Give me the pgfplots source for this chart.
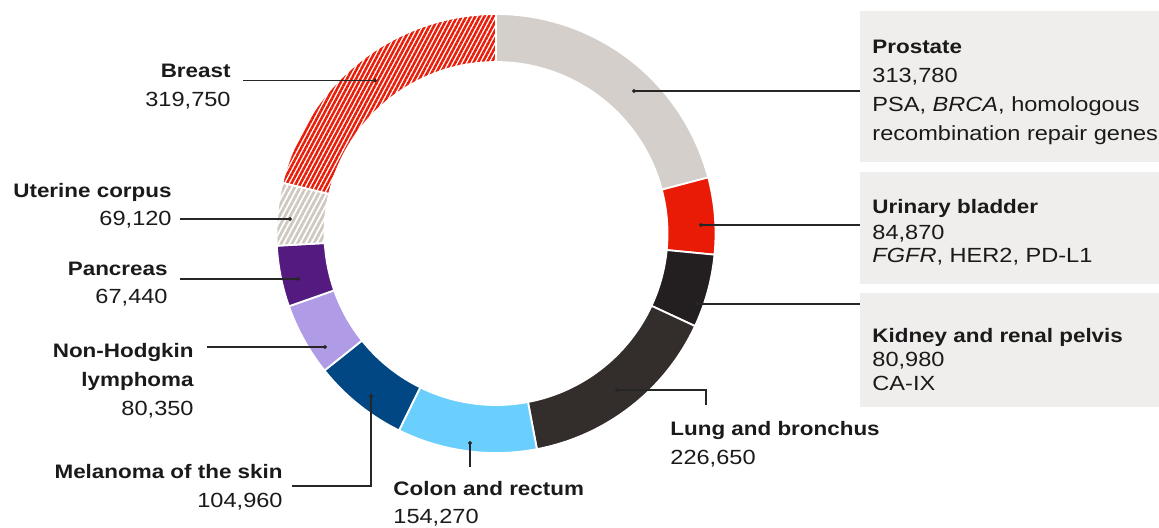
\documentclass[border=0pt]{standalone}
\usepackage{fontspec}
\setmainfont{Liberation Sans}[FakeStretch=1.15]
\usepackage{pgfplots}
\pgfplotsset{compat=1.18}
\usetikzlibrary{patterns.meta}

\definecolor{cProstate}{HTML}{D4CFCA}
\definecolor{cBladder}{HTML}{EA1B06}
\definecolor{cKidney}{HTML}{231F20}
\definecolor{cLung}{HTML}{332D2B}
\definecolor{cColon}{HTML}{6BCFFE}
\definecolor{cMelanoma}{HTML}{004784}
\definecolor{cNHL}{HTML}{B09CE6}
\definecolor{cPancreas}{HTML}{551A7F}
\definecolor{cUterine}{HTML}{CFC8C0}
\definecolor{cBreast}{HTML}{EA1B06}
\definecolor{cBox}{HTML}{EFEEEC}
\definecolor{cText}{HTML}{1A1A1A}

% new cases (thousands), clockwise from the top
\def\vProstate{313.78}
\def\vBladder{84.87}
\def\vKidney{80.98}
\def\vLung{226.65}
\def\vColon{154.27}
\def\vMelanoma{104.96}
\def\vNHL{80.35}
\def\vPancreas{67.44}
\def\vUterine{69.12}
\def\vBreast{319.75}
\pgfmathsetmacro\total{\vProstate+\vBladder+\vKidney+\vLung+\vColon+\vMelanoma+\vNHL+\vPancreas+\vUterine+\vBreast}
\gdef\cum{0}

\newcommand\seg[2]{%
  \pgfmathsetmacro\segB{90-360*(\cum/\total)}%
  \pgfmathsetmacro\newcum{\cum+#1}%
  \pgfmathsetmacro\segA{90-360*(\newcum/\total)}%
  \xdef\cum{\newcum}%
  \edef\doseg{\noexpand\addplot[#2, draw=white, line width=0.9pt, domain=0:2, samples=81]
   ({496+((x<1.0125)?219.5:171.5)*cos(((x<1.0125)?((\segB)-((\segB)-(\segA))*min(x,1)):((\segA)+((\segB)-(\segA))*max(x-1.025,0)/0.975)))},
    {233.5-((x<1.0125)?219.5:171.5)*sin(((x<1.0125)?((\segB)-((\segB)-(\segA))*min(x,1)):((\segA)+((\segB)-(\segA))*max(x-1.025,0)/0.975)))}) -- cycle;}%
  \doseg}

\tikzset{
  lab/.style={font=\fontsize{10.25}{12}\selectfont, inner sep=0pt, text=cText},
  labb/.style={lab, font=\fontsize{9.75}{11}\selectfont\bfseries},
}
\pgfplotsset{
  lead/.style={black!85, line width=0.55pt, mark=*, mark size=0.7pt, mark indices={1}},
}

\begin{document}
\begin{tikzpicture}
\useasboundingbox (0,0) rectangle (579.5pt,263.5pt);
\begin{axis}[at={(0,0)}, anchor=south west, scale only axis,
  width=579.5pt, height=263.5pt,
  xmin=0, xmax=1159, ymin=0, ymax=527, y dir=reverse,
  hide axis, clip=false]

% right-hand panels
\addplot[fill=cBox, draw=none] coordinates {(860,11) (1159,11) (1159,162) (860,162)} -- cycle;
\addplot[fill=cBox, draw=none] coordinates {(860,172) (1159,172) (1159,284) (860,284)} -- cycle;
\addplot[fill=cBox, draw=none] coordinates {(860,293) (1159,293) (1159,407) (860,407)} -- cycle;

% donut
\seg{\vProstate}{fill=cProstate}
\seg{\vBladder}{fill=cBladder}
\seg{\vKidney}{fill=cKidney}
\seg{\vLung}{fill=cLung}
\seg{\vColon}{fill=cColon}
\seg{\vMelanoma}{fill=cMelanoma}
\seg{\vNHL}{fill=cNHL}
\seg{\vPancreas}{fill=cPancreas}
\seg{\vUterine}{pattern={Lines[angle=62,distance=2.4pt,line width=1.4pt]}, pattern color=cUterine}
\seg{\vBreast}{pattern={Lines[angle=62,distance=2pt,line width=1.25pt]}, pattern color=cBreast}

% leader lines
\addplot[lead] coordinates {(375,80.5) (243,80.5)};
\addplot[lead] coordinates {(290,219) (180,219)};
\addplot[lead] coordinates {(298,279) (180,279)};
\addplot[lead] coordinates {(325,347) (207,347)};
\addplot[lead] coordinates {(371,396) (371,486) (292,486)};
\addplot[lead] coordinates {(470,443) (470,467)};
\addplot[lead] coordinates {(617,390) (706,390) (706,405)};
\addplot[lead] coordinates {(634,91) (860,91)};
\addplot[lead] coordinates {(701,225) (860,225)};
\addplot[lead] coordinates {(697,304) (860,304)};

% right labels
\node[labb, anchor=base west] at (axis cs:872,54) {Prostate};
\node[lab, anchor=base west] at (axis cs:872,83) {313,780};
\node[lab, anchor=base west] at (axis cs:872,112) {PSA, \textit{BRCA}, homologous};
\node[lab, anchor=base west] at (axis cs:872,140) {recombination repair genes};
\node[labb, anchor=base west] at (axis cs:872,213) {Urinary bladder};
\node[lab, anchor=base west] at (axis cs:872,239) {84,870};
\node[lab, anchor=base west] at (axis cs:872,262) {\textit{FGFR}, HER2, PD-L1};
\node[labb, anchor=base west] at (axis cs:872,342) {Kidney and renal pelvis};
\node[lab, anchor=base west] at (axis cs:872,366) {80,980};
\node[lab, anchor=base west] at (axis cs:872,390) {CA-IX};

% left labels
\node[labb, anchor=base east] at (axis cs:231,78) {Breast};
\node[lab, anchor=base east] at (axis cs:231,107) {319,750};
\node[labb, anchor=base east] at (axis cs:172,197) {Uterine corpus};
\node[lab, anchor=base east] at (axis cs:172,225) {69,120};
\node[labb, anchor=base east] at (axis cs:168,275) {Pancreas};
\node[lab, anchor=base east] at (axis cs:168,303) {67,440};
\node[labb, anchor=base east] at (axis cs:194,357) {Non-Hodgkin};
\node[labb, anchor=base east] at (axis cs:194,386) {lymphoma};
\node[lab, anchor=base east] at (axis cs:194,415) {80,350};
\node[labb, anchor=base east] at (axis cs:283,478) {Melanoma of the skin};
\node[lab, anchor=base east] at (axis cs:283,507) {104,960};

% bottom labels
\node[labb, anchor=base west] at (axis cs:393,495) {Colon and rectum};
\node[lab, anchor=base west] at (axis cs:393,523) {154,270};
\node[labb, anchor=base west] at (axis cs:670,435) {Lung and bronchus};
\node[lab, anchor=base west] at (axis cs:670,464) {226,650};
\end{axis}
\end{tikzpicture}
\end{document}
